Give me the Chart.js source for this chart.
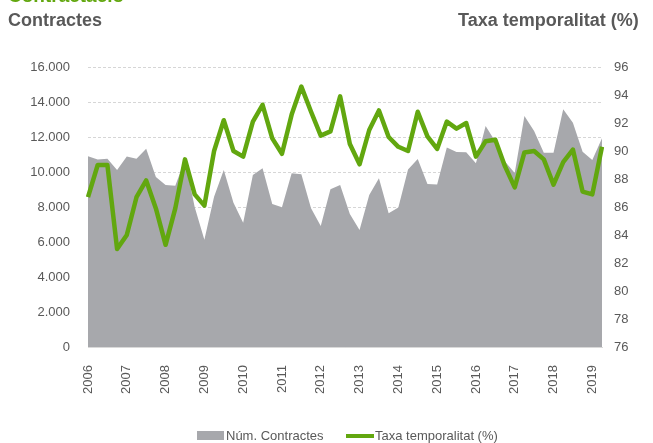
<!DOCTYPE html>
<html>
<head>
<meta charset="utf-8">
<script src="https://cdn.jsdelivr.net/npm/chart.js@4.4.1/dist/chart.umd.min.js"></script>
<style>
  body { margin: 0; background: #fff; font-family: "Liberation Sans", Arial, sans-serif; }
  #wrap { position: relative; width: 653px; height: 443px; overflow: hidden; }
  #chart { position: absolute; left: 0; top: 0; }
  .txt { position: absolute; white-space: nowrap; color: #595959; }
  .head { font-weight: bold; font-size: 18px; line-height: 20px; }
  .leg { font-size: 13px; line-height: 14px; top: 429px; }
</style>
</head>
<body>
<div id="wrap">
  <canvas id="chart" width="653" height="443"></canvas>
  <div class="txt head" style="left:8px; top:-14px; color:#62a70f; font-size:19px;">Contractació</div>
  <div class="txt head" style="left:8px; top:10px;">Contractes</div>
  <div class="txt head" style="left:458px; top:10px;">Taxa temporalitat (%)</div>
  <div style="position:absolute; left:197px; top:431px; width:27px; height:9px; background:#a7a8ac;"></div>
  <div class="txt leg" style="left:226px;">Núm. Contractes</div>
  <div style="position:absolute; left:346px; top:434px; width:28px; height:4px; background:#62a70f;"></div>
  <div class="txt leg" style="left:375px;">Taxa temporalitat (%)</div>
</div>
<script>
// quarterly figures, 2006 T1 .. 2019 T2
const years = ['2006', '2007', '2008', '2009', '2010', '2011', '2012',
  '2013', '2014', '2015', '2016', '2017', '2018', '2019'];

const contracts = [
  10900, 10720, 10760, 10110, 10880, 10760, 11330, 9710,
  9260, 9210, 10700, 8000, 6130, 8590, 10110, 8250,
  7100, 9830, 10210, 8170, 7980, 9930, 9870, 7930,
  6910, 9010, 9260, 7600, 6690, 8690, 9640, 7640,
  7970, 10150, 10750, 9320, 9280, 11400, 11140, 11130,
  10500, 12630, 11750, 10600, 9950, 13200, 12350, 11100,
  11100, 13580, 12820, 11160, 10690, 11930
];

const temporality = [
  86.7, 89.0, 89.0, 83.0, 84.0, 86.7, 87.9, 85.9,
  83.3, 85.9, 89.4, 86.9, 86.1, 90.0, 92.2, 90.0,
  89.6, 92.1, 93.3, 90.9, 89.8, 92.6, 94.6, 92.8,
  91.1, 91.4, 93.9, 90.5, 89.05, 91.5, 92.9, 91.0,
  90.3, 90.0, 92.8, 91.05, 90.15, 92.1, 91.6, 92.0,
  89.6, 90.7, 90.8, 88.9, 87.4, 89.9, 90.0, 89.4,
  87.6, 89.2, 90.1, 87.1, 86.9, 90.3
];

const quarters = [];
years.forEach(y => ['T1', 'T2', 'T3', 'T4'].forEach(q => quarters.push(y + ' ' + q)));
quarters.length = contracts.length;

const GREY = '#a7a8ac';
const GREEN = '#62a70f';
const TEXT = '#595959';
const FONT = '"Liberation Sans", Arial, sans-serif';

/**
 * 16000 -> "16.000"
 */
function thousands(v) {
  return String(v).replace(/\B(?=(\d{3})+(?!\d))/g, '.');
}

new Chart(document.getElementById('chart').getContext('2d'), {
  type: 'line',
  data: {
    labels: quarters,
    datasets: [
      {
        label: 'Taxa temporalitat (%)',
        data: temporality,
        yAxisID: 'yRight',
        borderColor: GREEN,
        borderWidth: 4.5,
        borderJoinStyle: 'round',
        pointRadius: 0,
        tension: 0,
        fill: false,
        order: 1
      },
      {
        label: 'Núm. Contractes',
        data: contracts,
        yAxisID: 'yLeft',
        backgroundColor: GREY,
        borderWidth: 0,
        pointRadius: 0,
        tension: 0,
        fill: 'origin',
        order: 2
      }
    ]
  },
  options: {
    responsive: false,
    animation: false,
    layout: { padding: { top: 67, left: 0, right: 0, bottom: 0 } },
    plugins: {
      legend: { display: false },
      tooltip: { enabled: false }
    },
    scales: {
      x: {
        grid: { display: false },
        border: { display: true, color: '#d9d9d9' },
        ticks: {
          autoSkip: false,
          maxRotation: 90,
          minRotation: 90,
          padding: 10,
          color: TEXT,
          font: { family: FONT, size: 13 },
          callback: (value, index) => index % 4 === 0 ? years[index / 4] : ''
        },
        afterFit: scale => { scale.height = 96; }
      },
      yLeft: {
        position: 'left',
        min: 0,
        max: 16000,
        grid: { color: '#d6d6d6', drawTicks: false },
        border: { display: false, dash: [3, 2] },
        ticks: {
          stepSize: 2000,
          padding: 18,
          color: TEXT,
          font: { family: FONT, size: 13 },
          callback: v => thousands(v)
        },
        afterFit: scale => { scale.width = 88; }
      },
      yRight: {
        position: 'right',
        min: 76,
        max: 96,
        grid: { display: false, drawTicks: false },
        border: { display: false },
        ticks: {
          stepSize: 2,
          padding: 12,
          color: TEXT,
          font: { family: FONT, size: 13 }
        },
        afterFit: scale => { scale.width = 51; }
      }
    }
  }
});
</script>
</body>
</html>
